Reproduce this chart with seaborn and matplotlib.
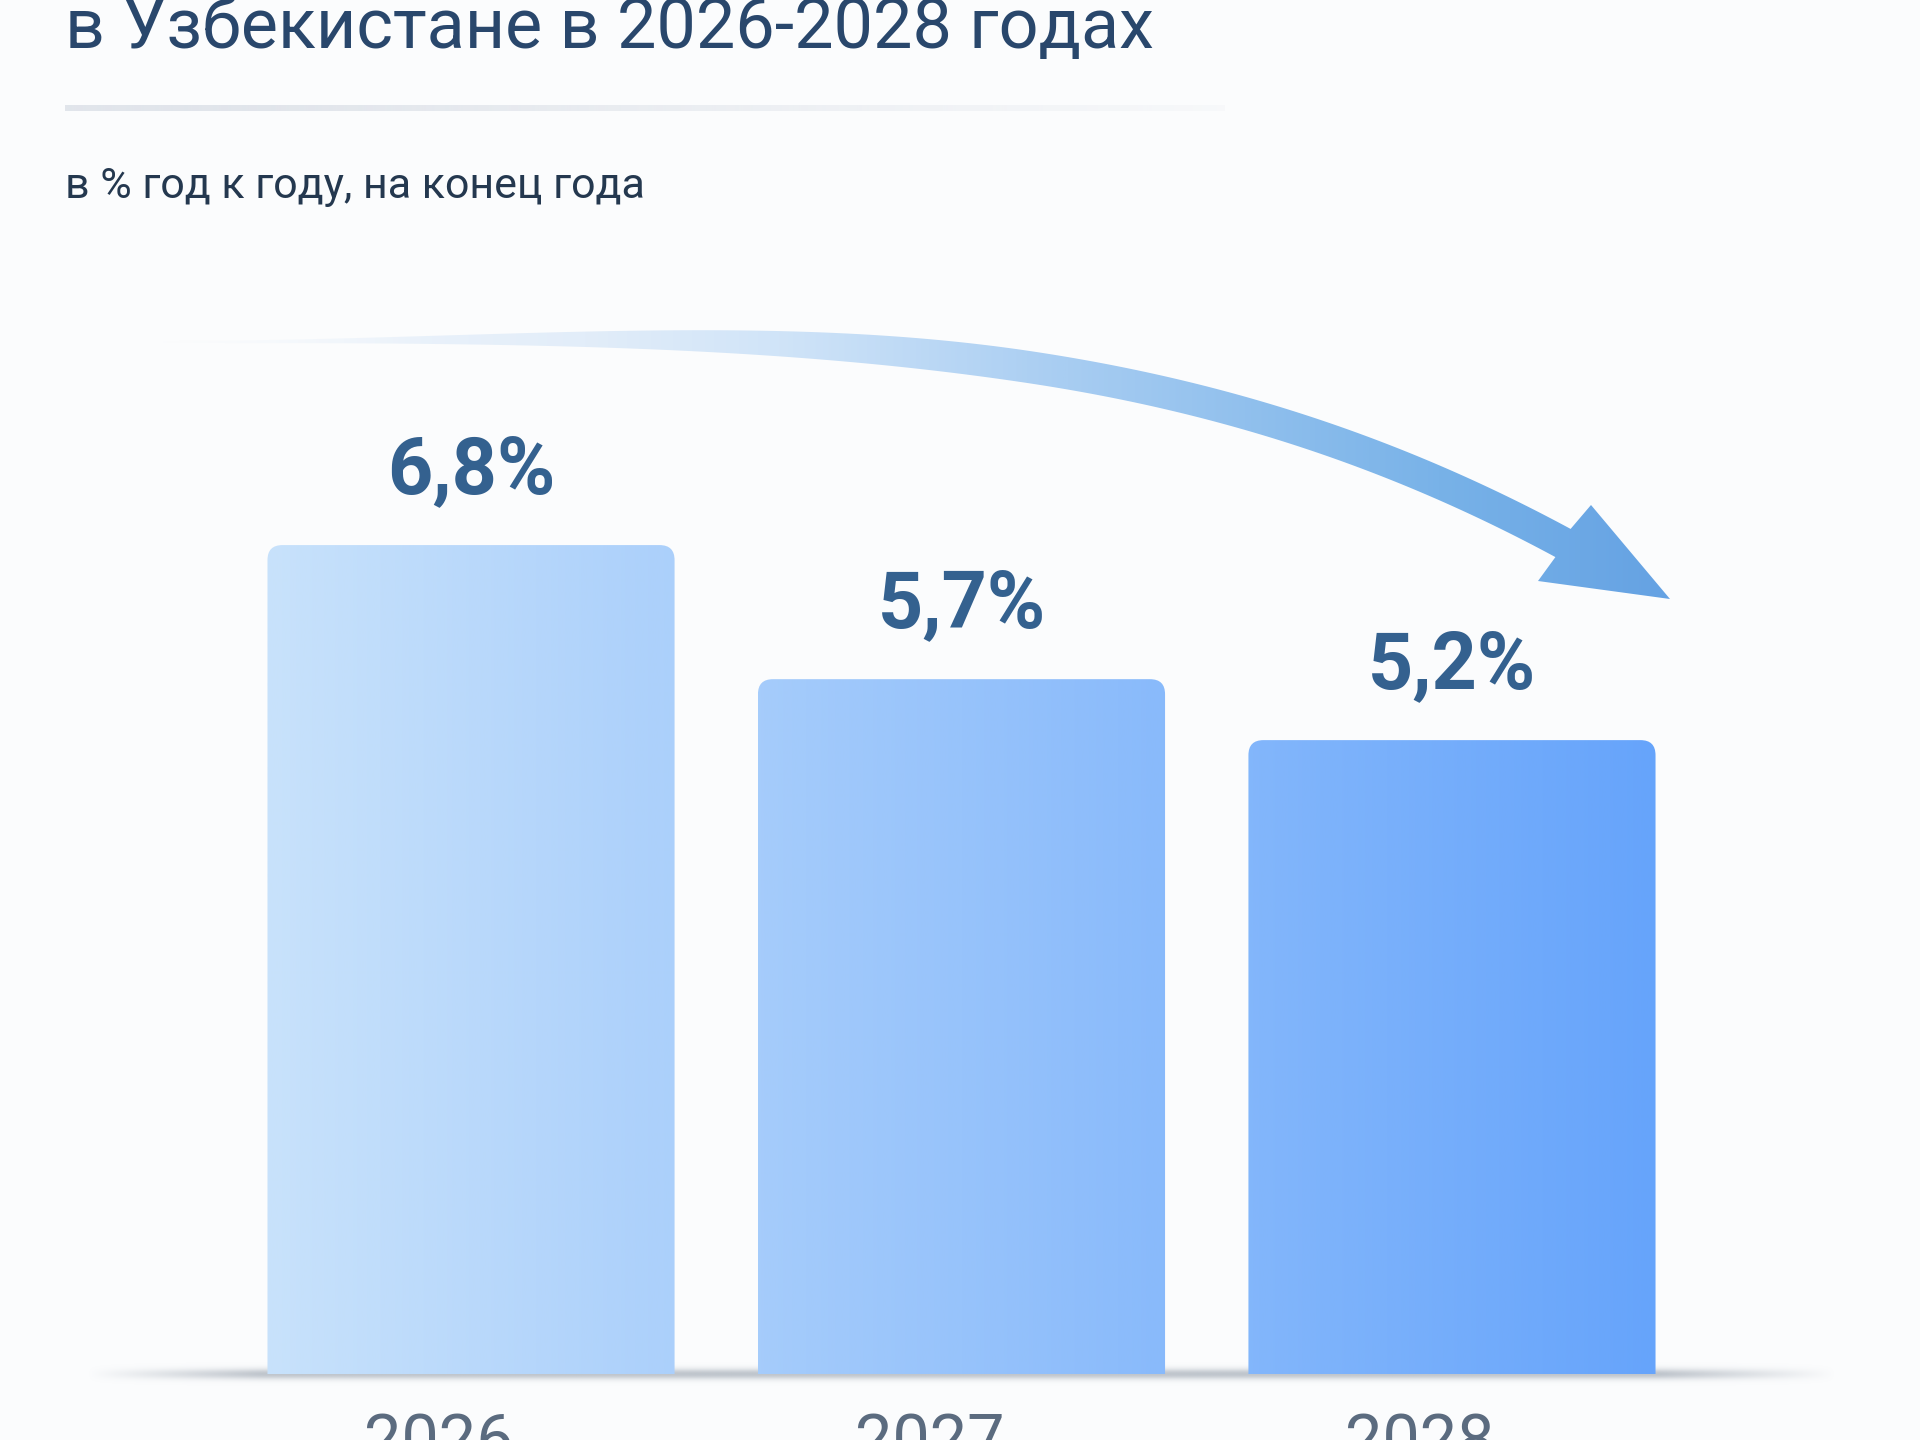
import numpy as np
import pandas as pd
import matplotlib
matplotlib.use("Agg")
import matplotlib.pyplot as plt
import seaborn as sns
from matplotlib.patches import FancyBboxPatch, Polygon
from matplotlib.colors import to_rgb, LinearSegmentedColormap
from matplotlib.transforms import ScaledTranslation

# data
years = ["2026", "2027", "2028"]
inflation = [6.8, 5.7, 5.2]
value_labels = ["6,8%", "5,7%", "5,2%"]

title_text = "в Узбекистане в 2026-2028 годах"
subtitle_text = "в % год к году, на конец года"

sns.set_theme(style="white")
plt.rcParams['font.family'] = ['Roboto', 'DejaVu Sans']

BG = "#fbfcfd"
W, H = 1920, 1440
fig = plt.figure(figsize=(19.2, 14.4), dpi=100, facecolor=BG)

# decoration layer in pixel coordinates (behind the bars)
ov = fig.add_axes([0, 0, 1, 1], zorder=0)
ov.set_xlim(0, W)
ov.set_ylim(H, 0)
ov.axis("off")
ov.patch.set_alpha(0)

# main axes: baseline ~1374 px from top, ~122 px per percent
ax = fig.add_axes([86 / W, 66 / H, (1837 - 86) / W, 1074 / H], zorder=1)
ax.patch.set_alpha(0)
df = pd.DataFrame({"year": years, "value": inflation})
sns.barplot(data=df, x="year", y="value", ax=ax, width=0.83, color="#a0c8f8")
xlim = (-0.785, 2.785)
ylim = (0, 1074 / 121.9)
ax.set_xlim(*xlim)
ax.set_ylim(*ylim)

# replace the flat bars with rounded, gradient-filled ones
pts = ax.transData.transform([(0, 0), (1, 1)])
ux, uy = pts[1, 0] - pts[0, 0], pts[1, 1] - pts[0, 1]
r_px = 15
rx, ry = r_px / ux, r_px / uy
bars = list(ax.patches)
L = min(p.get_x() for p in bars)
R = max(p.get_x() + p.get_width() for p in bars)
c0 = np.array(to_rgb("#c8e2fb"))
c1 = np.array(to_rgb("#66a4fb"))
for p in bars:
    x0, w, h = p.get_x(), p.get_width(), p.get_height()
    p.set_visible(False)
    box = FancyBboxPatch((x0, -2 * ry), w, h + 2 * ry,
                         boxstyle=f"round,pad=0,rounding_size={rx}",
                         mutation_aspect=ry / rx, facecolor="none",
                         edgecolor="none", transform=ax.transData)
    ax.add_patch(box)
    f = np.linspace((x0 - L) / (R - L), (x0 + w - L) / (R - L), 256)
    grad = c0 + (c1 - c0) * f[:, None]
    im = ax.imshow(grad[None, :, :], extent=[x0, x0 + w, 0, h], aspect="auto",
                   origin="lower", interpolation="bilinear", zorder=2)
    im.set_clip_path(box)

ax.set_xlim(*xlim)
ax.set_ylim(*ylim)

# value labels above bars
for i, (v, lab) in enumerate(zip(inflation, value_labels)):
    ax.text(i, v + 0.43, lab, ha="center", va="baseline", fontsize=57,
            fontweight="bold", color="#34618f")

ax.set_xlabel("")
ax.set_ylabel("")
ax.set_yticks([])
ax.tick_params(axis="x", length=0, pad=28, labelsize=48, labelcolor="#5b6b7f")
# year labels sit slightly left of the bar centres in the original
shift = ScaledTranslation(-32 / 100, 0, fig.dpi_scale_trans)
for lbl in ax.get_xticklabels():
    lbl.set_transform(lbl.get_transform() + shift)
sns.despine(ax=ax, left=True, bottom=True)

# baseline shadow
xs = np.linspace(0, 1, 400)
ys = np.linspace(-1, 1, 30)
taper = np.clip(np.minimum(xs, 1 - xs) / 0.1, 0, 1)
vert = np.exp(-(ys / 0.45) ** 2)
sh = np.zeros((30, 400, 4))
sh[..., :3] = to_rgb("#b0b7c0")
sh[..., 3] = vert[:, None] * taper[None, :] * 0.8
ov.imshow(sh, extent=[86, 1837, 1386, 1362], aspect="auto", interpolation="bilinear", zorder=1)

# separator under the title
sep = np.zeros((6, 400, 4))
sep[..., :3] = to_rgb("#e1e5eb")
sep[..., 3] = np.clip(1.15 - xs, 0, 1)[None, :]
ov.imshow(sep, extent=[65, 1225, 111, 105], aspect="auto", interpolation="bilinear", zorder=1)

# curved trend arrow
P0, P1, P2, P3 = map(np.array, [(161, 342), (700, 342), (1113, 300), (1563, 543)])
t = np.linspace(0, 1, 300)[:, None]
curve = ((1 - t) ** 3) * P0 + 3 * ((1 - t) ** 2) * t * P1 + 3 * (1 - t) * t ** 2 * P2 + t ** 3 * P3
d = (-3 * (1 - t) ** 2) * P0 + (3 * (1 - t) ** 2 - 6 * (1 - t) * t) * P1 \
    + (6 * (1 - t) * t - 3 * t ** 2) * P2 + 3 * t ** 2 * P3
d = d / np.linalg.norm(d, axis=1, keepdims=True)
nrm = np.column_stack([d[:, 1], -d[:, 0]])
s = np.clip(t[:, 0] / 0.6, 0, 1)
hw = (1.0 + 15.0 * s * s * (3 - 2 * s))[:, None]
upper = curve + nrm * hw
lower = curve - nrm * hw
tip = np.array([1670, 599])
head_u = np.array([1591, 505])
head_l = np.array([1538, 581])
poly = np.vstack([upper, head_u, tip, head_l, lower[::-1]])
arrow = Polygon(poly, closed=True, facecolor="none", edgecolor="none")
ov.add_patch(arrow)
arrow_cmap = LinearSegmentedColormap.from_list(
    "arrow", [(0.0, "#f4f8fd"), (0.28, "#e2edf9"), (0.41, "#d0e4f8"),
              (0.6, "#a8cdf2"), (0.85, "#78b2e8"), (1.0, "#65a2e3")])
ax_lin = np.linspace(0, 1, 600)
ag = arrow_cmap(ax_lin)[None, :, :]
ag[0, :, 3] = np.clip(ax_lin / 0.18, 0, 1)
aim = ov.imshow(ag, extent=[161, 1670, 620, 310], aspect="auto", interpolation="bilinear", zorder=2)
aim.set_clip_path(arrow)
ov.set_xlim(0, W)
ov.set_ylim(H, 0)

# title and subtitle
fig.text(65 / W, 1 - 48 / H, title_text, fontsize=50.5, color="#29476c", va="baseline")
fig.text(65 / W, 1 - 198 / H, subtitle_text, fontsize=31, color="#24384f", va="baseline")

fig.savefig("out.png", dpi=100, facecolor=BG)
